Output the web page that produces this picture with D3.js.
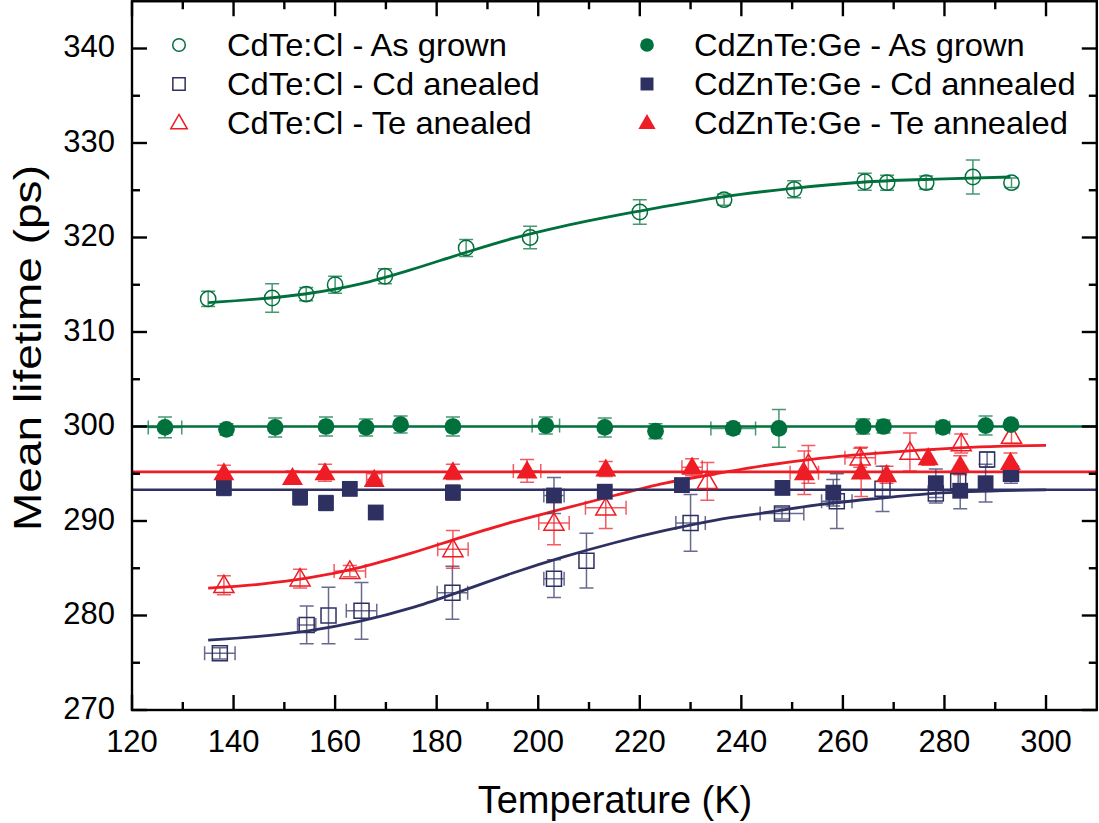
<!DOCTYPE html>
<html>
<head>
<meta charset="utf-8">
<script src="https://cdn.jsdelivr.net/npm/d3@7"></script>
<style>
  html, body { margin: 0; padding: 0; background: #fff; }
  svg { display: block; font-family: "Liberation Sans", Arial, sans-serif; }
</style>
</head>
<body>
<svg id="chart" width="1099" height="823"></svg>
<script>
// Mean positron lifetime vs temperature, CdTe:Cl and CdZnTe:Ge samples.
// Each point: [temperature K, lifetime ps, temperature error, lifetime error]
const cdteAsGrown = [
  [135.0, 313.5, 0, 0.8], [147.6, 313.6, 0, 1.5], [154.3, 314.0, 0, 0.7],
  [160.0, 315.0, 0, 0.9], [169.8, 315.9, 0, 0.8], [185.8, 318.9, 0, 0.9],
  [198.4, 320.0, 0, 1.2], [220.0, 322.7, 0, 1.3], [236.6, 324.0, 0, 0.6],
  [250.4, 325.1, 0, 0.9], [264.3, 325.9, 0, 0.9], [268.7, 325.8, 0, 0.8],
  [276.4, 325.8, 0, 0.7], [285.6, 326.4, 0, 1.8], [293.2, 325.8, 0, 0.5]
];
const cdteCdAnnealed = [
  [137.3, 276.0, 3.0, 0.6], [154.4, 279.0, 1.8, 2.0], [158.7, 280.0, 0, 3.0],
  [165.2, 280.5, 3.0, 3.0], [183.1, 282.4, 3.0, 2.8], [203.1, 283.9, 2.0, 2.0],
  [209.5, 285.8, 0, 2.9], [230.0, 289.8, 2.9, 3.0], [248.0, 290.8, 4.3, 0.6],
  [258.8, 292.1, 3.0, 2.9], [267.8, 293.4, 0, 2.4], [278.3, 292.9, 0, 1.0],
  [282.7, 294.2, 0, 1.0], [288.4, 296.5, 0, 0.8], [293.1, 295.0, 0, 0.8]
];
const cdteTeAnnealed = [
  [138.1, 283.2, 0, 1.0], [153.1, 283.9, 0, 1.0], [162.9, 284.7, 3.1, 0.6],
  [183.2, 287.0, 3.0, 2.0], [203.1, 289.8, 3.0, 2.3], [213.3, 291.4, 4.0, 2.2],
  [233.3, 294.2, 0, 2.0], [253.2, 296.0, 0, 2.0], [263.4, 296.7, 3.0, 1.0],
  [273.2, 297.3, 0, 2.0], [283.3, 298.2, 0, 1.0], [293.2, 299.0, 0, 0.8]
];
const czteAsGrown = [
  [126.5, 299.9, 3.3, 1.1], [138.6, 299.7, 0, 0.6], [148.2, 299.9, 0, 1.0],
  [158.2, 300.0, 0, 1.0], [166.1, 299.9, 0, 0.9], [172.9, 300.2, 0, 0.9],
  [183.2, 300.0, 0, 1.0], [201.5, 300.1, 2.7, 0.9], [213.1, 299.9, 0, 1.0],
  [223.1, 299.5, 0, 0.8], [238.4, 299.8, 4.4, 0.6], [247.4, 299.8, 0, 2.0],
  [264.0, 300.0, 0, 0.8], [268.0, 300.0, 0, 0.7], [279.7, 299.9, 1.3, 0.5],
  [288.1, 300.1, 0, 1.0], [293.1, 300.2, 0, 0.5]
];
const czteCdAnnealed = [
  [138.1, 293.5, 0, 0.8], [153.1, 292.5, 0, 0.8], [158.2, 291.9, 0, 0.8],
  [162.9, 293.4, 0, 0.7], [168.0, 290.9, 0, 0.7], [183.2, 293.0, 0, 0.8],
  [203.1, 292.7, 2.0, 1.9], [213.1, 293.1, 0, 0.7], [228.3, 293.8, 0, 0.7],
  [248.1, 293.5, 0, 0.6], [258.1, 293.0, 0, 1.4], [278.3, 294.0, 0, 1.5],
  [283.1, 293.2, 0, 1.9], [288.1, 294.0, 0, 2.0], [293.1, 295.0, 0, 1.0]
];
const czteTeAnnealed = [
  [138.1, 295.1, 0, 0.8], [151.6, 294.6, 0, 0.7], [158.0, 295.1, 0, 0.9],
  [167.7, 294.4, 1.5, 0.6], [183.2, 295.2, 0, 0.8], [197.8, 295.3, 2.7, 1.2],
  [213.3, 295.5, 0, 0.8], [230.3, 295.7, 2.0, 0.9], [252.4, 295.1, 2.8, 2.3],
  [263.6, 295.2, 0, 2.6], [268.6, 294.9, 0, 0.9], [276.8, 296.7, 0, 0.8],
  [283.1, 295.9, 0, 1.0], [293.0, 296.2, 0, 1.0]
];

// Sigmoidal fit curves, sampled [temperature, lifetime]
const cdteAsGrownFit = [
  [135, 313.1], [145, 313.5], [155, 314.1], [165, 315.1], [175, 316.6],
  [185, 318.3], [195, 319.9], [205, 321.2], [220, 322.8], [235, 324.2],
  [250, 325.2], [265, 325.9], [280, 326.2], [293, 326.4]
];
const cdteCdFit = [
  [135, 277.4], [145, 277.8], [155, 278.4], [165, 279.4], [175, 280.8],
  [185, 282.6], [195, 284.5], [205, 286.2], [215, 287.7], [225, 289.0],
  [235, 290.1], [245, 290.9], [255, 291.7], [265, 292.3], [275, 292.8],
  [285, 293.1], [300, 293.3]
];
const cdteTeFit = [
  [135, 282.9], [145, 283.3], [155, 284.0], [165, 285.1], [175, 286.6],
  [185, 288.3], [195, 289.9], [205, 291.3], [215, 292.7], [225, 294.0],
  [235, 295.0], [245, 295.9], [255, 296.6], [265, 297.1], [275, 297.5],
  [285, 297.8], [300, 298.0]
];
// Temperature-independent levels of the CdZnTe:Ge samples
const czteLevels = [300.0, 293.3, 295.2];

const xTicks = [120, 140, 160, 180, 200, 220, 240, 260, 280, 300];
const yTicks = [270, 280, 290, 300, 310, 320, 330, 340];
const legendLabels = [
  "CdTe:Cl - As grown", "CdTe:Cl - Cd anealed", "CdTe:Cl - Te anealed",
  "CdZnTe:Ge - As grown", "CdZnTe:Ge - Cd annealed", "CdZnTe:Ge - Te annealed"
];

const GREEN = "#00703c", NAVY = "#2e3062", RED = "#ee1c25";

const svg = d3.select("#chart");
const x = d3.scaleLinear().domain([120, 310]).range([132, 1096.8]);
const y = d3.scaleLinear().domain([270, 345]).range([710, 1.25]);

const series = [
  { data: cdteAsGrown, color: GREEN, shape: "circle", open: true },
  { data: cdteCdAnnealed, color: NAVY, shape: "square", open: true },
  { data: cdteTeAnnealed, color: RED, shape: "triangle", open: true },
  { data: czteAsGrown, color: GREEN, shape: "circle", open: false },
  { data: czteCdAnnealed, color: NAVY, shape: "square", open: false },
  { data: czteTeAnnealed, color: RED, shape: "triangle", open: false }
];

function symbolPath(shape, open, scale) {
  const s = scale || 1;
  if (shape === "circle") return d3.symbol(d3.symbolCircle, (open ? 185 : 220) * s * s)();
  if (shape === "square") return d3.symbol(d3.symbolSquare, (open ? 225 : 250) * s * s)();
  return d3.symbol(d3.symbolTriangle, (open ? 175 : 190) * s * s)();
}

// Fit curves and constant levels
const plot = svg.append("g");
const line = d3.line().x(d => x(d[0])).y(d => y(d[1])).curve(d3.curveMonotoneX);
[[cdteAsGrownFit, GREEN], [cdteCdFit, NAVY], [cdteTeFit, RED]].forEach(([pts, c]) => {
  plot.append("path").attr("d", line(pts)).attr("fill", "none")
    .attr("stroke", c).attr("stroke-width", 2.8);
});
czteLevels.forEach((v, i) => {
  plot.append("line").attr("x1", x(120)).attr("x2", x(310))
    .attr("y1", y(v)).attr("y2", y(v))
    .attr("stroke", [GREEN, NAVY, RED][i]).attr("stroke-width", 2.6);
});

// Error bars then markers
series.forEach(sr => {
  const g = plot.append("g").attr("stroke", sr.color).attr("stroke-opacity", 0.72)
    .attr("stroke-width", 1.5).attr("fill", "none");
  const cap = 7;
  sr.data.forEach(d => {
    const cx = x(d[0]), cy = y(d[1]);
    if (d[3] > 0) {
      const y0 = y(d[1] - d[3]), y1 = y(d[1] + d[3]);
      g.append("path").attr("d",
        `M${cx},${y0}V${y1}M${cx - cap},${y0}H${cx + cap}M${cx - cap},${y1}H${cx + cap}`);
    }
    if (d[2] > 0) {
      const x0 = x(d[0] - d[2]), x1 = x(d[0] + d[2]);
      g.append("path").attr("d",
        `M${x0},${cy}H${x1}M${x0},${cy - cap}V${cy + cap}M${x1},${cy - cap}V${cy + cap}`);
    }
  });
});
series.forEach(sr => {
  plot.append("g").selectAll("path").data(sr.data).join("path")
    .attr("d", symbolPath(sr.shape, sr.open))
    .attr("transform", d => `translate(${x(d[0])},${y(d[1]) + (sr.shape === "triangle" ? 1.5 : 0)})`)
    .attr("fill", sr.open ? "none" : sr.color)
    .attr("stroke", sr.color)
    .attr("stroke-width", sr.open ? 1.5 : 0);
});

// Axes: ticks pointing inward on all four sides
const axes = svg.append("g").attr("stroke", "#000").attr("stroke-width", 2.4);
const xMinor = d3.range(130, 310, 20);
const yMinor = d3.range(275, 345, 10);
const xAll = xTicks.map(t => [t, 15]).concat(xMinor.map(t => [t, 8]));
const yAll = yTicks.map(t => [t, 15]).concat(yMinor.map(t => [t, 8]));
xAll.forEach(([t, len]) => {
  axes.append("line").attr("x1", x(t)).attr("x2", x(t)).attr("y1", y(270)).attr("y2", y(270) - len);
  axes.append("line").attr("x1", x(t)).attr("x2", x(t)).attr("y1", y(345)).attr("y2", y(345) + len);
});
yAll.forEach(([t, len]) => {
  axes.append("line").attr("y1", y(t)).attr("y2", y(t)).attr("x1", x(120)).attr("x2", x(120) + len);
  axes.append("line").attr("y1", y(t)).attr("y2", y(t)).attr("x1", x(310)).attr("x2", x(310) - len);
});
axes.append("rect").attr("x", x(120)).attr("y", y(345))
  .attr("width", x(310) - x(120)).attr("height", y(270) - y(345)).attr("fill", "none");

// Tick labels
svg.append("g").selectAll("text").data(xTicks).join("text")
  .attr("x", d => x(d)).attr("y", y(270) + 42)
  .attr("text-anchor", "middle").attr("font-size", 31).attr("fill", "#000")
  .text(d => d);
svg.append("g").selectAll("text").data(yTicks).join("text")
  .attr("x", x(120) - 17).attr("y", d => y(d) + 8.5)
  .attr("text-anchor", "end").attr("font-size", 31).attr("fill", "#000")
  .text(d => d);

// Axis titles
svg.append("text").attr("x", 615).attr("y", 813)
  .attr("text-anchor", "middle").attr("font-size", 38).attr("fill", "#000")
  .text("Temperature (K)");
svg.append("text")
  .attr("transform", "translate(41,348) rotate(-90)")
  .attr("text-anchor", "middle").attr("font-size", 39).attr("fill", "#000")
  .attr("textLength", 366).attr("lengthAdjust", "spacingAndGlyphs")
  .text("Mean lifetime (ps)");

// Legend (two columns of three)
const legend = svg.append("g");
series.forEach((sr, i) => {
  const col = Math.floor(i / 3), row = i % 3;
  const sx = col ? 647 : 179, tx = col ? 694 : 227;
  const base = 56 + row * 39;
  legend.append("path")
    .attr("d", symbolPath(sr.shape, sr.open, 0.82))
    .attr("transform", `translate(${sx},${base - 11 + (sr.shape === "triangle" ? 1 : 0)})`)
    .attr("fill", sr.open ? "none" : sr.color)
    .attr("stroke", sr.color).attr("stroke-width", sr.open ? 1.5 : 0);
  legend.append("text")
    .attr("transform", `translate(${tx},${base}) scale(1.055,1)`)
    .attr("font-size", 31).attr("fill", "#000").text(legendLabels[i]);
});
</script>
</body>
</html>
